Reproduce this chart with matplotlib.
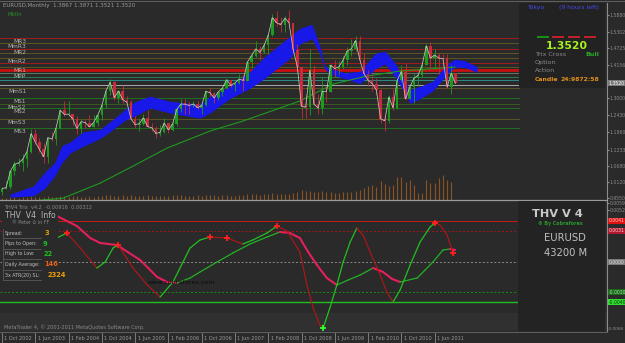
import matplotlib
matplotlib.use("Agg")
import matplotlib.pyplot as plt
from matplotlib.patches import Rectangle
from matplotlib.lines import Line2D
import matplotlib.transforms as mtransforms

W, H = 625, 343
BG = "#2a2a2a"

# ---------------- data ----------------
first_open = 0.9790
closes = [0.9885, 0.9930, 1.0490,
          1.0730, 1.0780, 1.0905, 1.1170, 1.1790, 1.1500, 1.1240, 1.0990, 1.1650, 1.1600, 1.1990, 1.2590,
          1.2450, 1.2460, 1.2300, 1.1960, 1.2200, 1.2170, 1.2020, 1.2170, 1.2420, 1.2760, 1.3270, 1.3560,
          1.3030, 1.3260, 1.2960, 1.2870, 1.2300, 1.2100, 1.2130, 1.2330, 1.2030, 1.1990, 1.1790, 1.1840,
          1.2150, 1.1920, 1.2120, 1.2620, 1.2810, 1.2800, 1.2760, 1.2810, 1.2680, 1.2760, 1.3250, 1.3190,
          1.3020, 1.3230, 1.3360, 1.3650, 1.3450, 1.3540, 1.3670, 1.3620, 1.4260, 1.4480, 1.4710, 1.4590,
          1.4830, 1.5180, 1.5790, 1.5610, 1.5550, 1.5770, 1.5610, 1.4680, 1.4090, 1.2730, 1.2700, 1.3970,
          1.2800, 1.2670, 1.3250, 1.3240, 1.4150, 1.4030, 1.4100, 1.4330, 1.4640, 1.4720, 1.5000, 1.4340,
          1.3860, 1.3630, 1.3510, 1.3290, 1.2300, 1.2230, 1.3050, 1.2680, 1.3630, 1.3930, 1.2980, 1.3380,
          1.3690, 1.3800, 1.4160, 1.4810, 1.4390, 1.4500, 1.4390, 1.4380, 1.3390, 1.3870, 1.3520]
highs = [0.9930, 1.0140, 1.0500,
         1.0860, 1.0940, 1.1080, 1.1240, 1.1930, 1.1930, 1.1640, 1.1450, 1.1680, 1.1850, 1.2020, 1.2650,
         1.2900, 1.2930, 1.2480, 1.2390, 1.2280, 1.2270, 1.2420, 1.2430, 1.2440, 1.2790, 1.3300, 1.3670,
         1.3600, 1.3270, 1.3480, 1.3090, 1.2940, 1.2410, 1.2280, 1.2480, 1.2590, 1.2160, 1.2040, 1.2080,
         1.2330, 1.2170, 1.2220, 1.2640, 1.2980, 1.2980, 1.2870, 1.2920, 1.2920, 1.2800, 1.3270, 1.3360,
         1.3220, 1.3250, 1.3380, 1.3680, 1.3640, 1.3540, 1.3850, 1.3800, 1.4280, 1.4520, 1.4970, 1.4820,
         1.4910, 1.5200, 1.5910, 1.6020, 1.5820, 1.5860, 1.6040, 1.5620, 1.4870, 1.4120, 1.3170, 1.4720,
         1.4160, 1.3150, 1.3740, 1.3440, 1.4180, 1.4340, 1.4290, 1.4450, 1.4790, 1.5060, 1.5140, 1.5140,
         1.4580, 1.3970, 1.3830, 1.3690, 1.3320, 1.2420, 1.3110, 1.3330, 1.3650, 1.4160, 1.4240, 1.3500,
         1.3830, 1.3860, 1.4250, 1.4880, 1.4940, 1.4700, 1.4580, 1.4550, 1.4550, 1.4140, 1.3871]
lows = [0.9685, 0.9860, 0.9870,
        1.0360, 1.0660, 1.0500, 1.0620, 1.1130, 1.1420, 1.1140, 1.0770, 1.0770, 1.1520, 1.1400, 1.1960,
        1.2400, 1.2390, 1.2080, 1.1760, 1.1800, 1.1970, 1.2010, 1.2000, 1.2050, 1.2270, 1.2680, 1.3130,
        1.2960, 1.2860, 1.2860, 1.2790, 1.2300, 1.1980, 1.1870, 1.2080, 1.2000, 1.1870, 1.1640, 1.1710,
        1.1800, 1.1820, 1.1880, 1.2040, 1.2530, 1.2470, 1.2460, 1.2700, 1.2620, 1.2480, 1.2740, 1.3070,
        1.2860, 1.2940, 1.3070, 1.3330, 1.3410, 1.3270, 1.3510, 1.3260, 1.3590, 1.4050, 1.4430, 1.4340,
        1.4560, 1.4540, 1.5140, 1.5510, 1.5280, 1.5300, 1.5530, 1.4580, 1.3900, 1.2330, 1.2330, 1.2430,
        1.2760, 1.2470, 1.2460, 1.2880, 1.3230, 1.3750, 1.3830, 1.4030, 1.4150, 1.4480, 1.4630, 1.4210,
        1.3860, 1.3440, 1.3270, 1.3120, 1.2150, 1.1880, 1.2150, 1.2590, 1.2640, 1.3590, 1.2970, 1.2970,
        1.2860, 1.3440, 1.3740, 1.4160, 1.3970, 1.4000, 1.3840, 1.4000, 1.3360, 1.3140, 1.3521]
volumes = [2, 2, 3, 3, 2, 3, 3, 4, 3, 3, 3, 4, 3, 3, 4,
           4, 3, 4, 4, 3, 3, 4, 3, 4, 4, 5, 5, 4, 4, 5, 4, 5, 4, 4, 4, 5, 4, 4, 4,
           4, 4, 5, 5, 5, 4, 4, 4, 5, 4, 5, 5, 5, 4, 5, 5, 4, 4, 5, 5, 6, 6, 6, 5,
           6, 6, 7, 6, 6, 6, 6, 7, 8, 10, 9, 9, 8, 8, 9, 8, 8, 7, 7, 8, 8, 8, 9, 10,
           12, 14, 15, 13, 19, 16, 14, 15, 23, 23, 18, 20, 15, 7, 7, 20, 17, 17, 22, 25, 20, 18]

cloud_idx = [1.9, 7.5, 10.3, 12.7, 14.4, 16.4, 19.5, 23.6, 26.0, 29.6, 32.0, 35.6, 40.4, 47.6, 50.0,
             54.8, 59.6, 63.2, 69.2, 71.6, 74.5, 76.4, 77.6, 78.9, 82.5, 86.1, 89.7, 92.1, 94.5, 96.9,
             98.1, 100.5, 103.6, 107.0, 108.9, 111.3, 114.2]
cloud_top = [0.9700, 0.9980, 1.0460, 1.0800, 1.1380, 1.1500, 1.1850, 1.1930, 1.2200, 1.2620, 1.2900,
             1.3080, 1.2900, 1.2800, 1.3070, 1.3420, 1.3930, 1.4450, 1.5140, 1.5420, 1.5560, 1.4800,
             1.4120, 1.4050, 1.3880, 1.3940, 1.4560, 1.4630, 1.4220, 1.3600, 1.3320, 1.3420, 1.3600,
             1.4190, 1.4360, 1.4300, 1.4100]
cloud_bot = [0.9597, 0.9640, 0.9900, 1.0330, 1.0780, 1.1120, 1.1350, 1.1620, 1.1860, 1.2250, 1.2400,
             1.2670, 1.2500, 1.2320, 1.2500, 1.3000, 1.3350, 1.3700, 1.4380, 1.4880, 1.5060, 1.4540,
             1.4010, 1.3840, 1.3680, 1.3510, 1.4020, 1.4190, 1.3750, 1.3170, 1.2830, 1.2990, 1.3270,
             1.3840, 1.4080, 1.4070, 1.3900]

ma_idx = [9.1, 14.7, 23.6, 31.5, 39.7, 50.0, 57.9, 71.6, 79.6, 87.7, 95.7, 108.9]
ma_val = [0.949, 0.9562, 1.0080, 1.0669, 1.1290, 1.1876, 1.2221, 1.2911, 1.3497, 1.3773, 1.3946, 1.4083]

level_names = ["MR3", "MmR3", "MR2", "", "MmR2", "", "MR1", "", "MPP", "", "", "",
               "MmS1", "MS1", "MmS2", "MS2", "MmS3", "MS3"]
level_prices = [1.5083, 1.4910, 1.4703, 1.4565, 1.4393, 1.4220, 1.4082, 1.3979, 1.3875, 1.3737,
                1.3634, 1.3461, 1.3358, 1.3013, 1.2806, 1.2668, 1.2288, 1.1978]
level_colors = ["#a01c1c", "#5c5420", "#a01c1c", "#5c5420", "#5c5420", "#a01c1c", "#5c5420", "#c81010",
                "#5c7a5c", "#2a7a4a", "#2a8a8a", "#a8a8a8", "#5c5420", "#207020", "#3a5a20", "#207020",
                "#5c5420", "#207020"]

fast_idx = [13.2, 15.6, 18.8, 22.8, 24.8, 26.7, 27.9, 31.5, 34.9, 38.0, 41.1, 45.2, 47.6, 50.0, 54.1,
            57.9, 60.3, 63.7, 66.1, 68.5, 71.6, 73.3, 74.8, 76.4, 77.2, 78.8, 80.5, 82.0, 83.7, 85.3,
            86.8, 88.5, 90.9, 92.5, 94.0, 95.7, 98.1, 100.5, 102.9, 104.1, 105.3, 107.0, 108.4]
fast_val = [0.0024, 0.0029, 0.0014, -0.0006, 0.0000, 0.0014, 0.0017, -0.0006, -0.0023, -0.0035, -0.0020,
            0.0014, 0.0022, 0.0025, 0.0024, 0.0018, 0.0022, 0.0029, 0.0036, 0.0031, 0.0010, -0.0023,
            -0.0046, -0.0063, -0.0066, -0.0046, -0.0023, 0.0000, 0.0020, 0.0034, 0.0027, 0.0010,
            -0.0013, -0.0030, -0.0040, -0.0028, -0.0003, 0.0020, 0.0035, 0.0039, 0.0037, 0.0027, 0.0009]
slow_idx = [13.2, 18.0, 21.2, 23.6, 27.6, 33.2, 37.3, 39.7, 42.1, 45.2, 47.6, 51.7, 55.5, 59.6, 63.7,
            66.8, 69.2, 71.6, 73.6, 75.7, 78.1, 80.5, 83.2, 86.1, 89.2, 91.6, 93.8, 95.7, 99.8, 101.7,
            103.6, 106.0, 107.7, 108.9]
slow_val = [0.0046, 0.0036, 0.0024, 0.0019, 0.0017, 0.0002, -0.0015, -0.0020, -0.0021, -0.0016, -0.0010,
            0.0000, 0.0009, 0.0018, 0.0025, 0.0030, 0.0029, 0.0024, 0.0010, -0.0003, -0.0016, -0.0023,
            -0.0018, -0.0013, -0.0006, -0.0010, -0.0017, -0.0020, -0.0016, -0.0008, 0.0000, 0.0012,
            0.0013, 0.0012]
peak_marks = [15.6, 27.9, 50.0, 54.1, 66.1, 104.1, 108.4]
trough_marks = [77.2]
osc_levels = [0.0041, 0.0031, 0.0000, -0.0030, -0.0040]

price_ticks = [1.5880, 1.5302, 1.4725, 1.4156, 1.3000, 1.2430, 1.1860, 1.1233, 1.0680, 1.0120, 0.9550]
osc_ticks = [0.0059, 0.0052]
osc_tick_labels = ["0.0059", "0.0052"]
date_labels = ["1 Oct 2002", "1 Jun 2003", "1 Feb 2004", "1 Oct 2004", "1 Jun 2005", "1 Feb 2006",
               "1 Oct 2006", "1 Jun 2007", "1 Feb 2008", "1 Oct 2008", "1 Jun 2009", "1 Feb 2010",
               "1 Oct 2010", "1 Jun 2011"]
date_idx = [0, 8, 16, 24, 32, 40, 48, 56, 64, 72, 80, 88, 96, 104]
current_price = 1.3520

# ---------------- helpers ----------------
def fx(px):
    return px / W

def fy(py):
    return 1 - py / H

fig = plt.figure(figsize=(W / 100, H / 100), dpi=100, facecolor=BG)

def T(px, py, s, **kw):
    kw.setdefault("va", "center")
    kw.setdefault("ha", "left")
    kw.setdefault("color", "#b0b0b0")
    kw.setdefault("fontsize", 4.5)
    fig.text(fx(px), fy(py), s, **kw)

def R(x0, y0, x1, y1, **kw):
    fig.patches.append(Rectangle((fx(x0), fy(y1)), fx(x1) - fx(x0), fy(y0) - fy(y1),
                                 transform=fig.transFigure, figure=fig, **kw))

def L(x0, y0, x1, y1, **kw):
    fig.lines.append(Line2D([fx(x0), fx(x1)], [fy(y0), fy(y1)], transform=fig.transFigure, figure=fig, **kw))

X0 = -2 / 4.16
X1 = 605 / 4.16
PX_RIGHT = 607
TICK_FS = 3.3

# ---------------- main panel ----------------
ax = fig.add_axes([0, fy(199.5), fx(PX_RIGHT), fy(3) - fy(199.5)])
ax.set_xlim(X0, X1)
ax.set_ylim(0.9515, 1.6294)

axv = ax.twinx()
axv.set_ylim(0, 196.5)
axv.set_xlim(X0, X1)
axv.vlines(range(len(volumes)), 0, volumes, color="#8a5422", lw=0.8)
axv.set_yticks([])
axv.set_zorder(0)
ax.set_zorder(1)
ax.patch.set_visible(False)
axv.patch.set_facecolor(BG)
for s in axv.spines.values():
    s.set_visible(False)

# pivot levels
for nm, p, c in zip(level_names, level_prices, level_colors):
    ax.plot([X0, 124.3], [p, p], color=c, lw=2.0 if c == "#c81010" else 0.7, zorder=1)

# cloud
ax.fill_between(cloud_idx, cloud_bot, cloud_top, color="#1818e8", lw=0, zorder=2)
# long MA
ax.plot(ma_idx, ma_val, color="#1f9a1f", lw=0.8, zorder=3)

# candles
opens = [first_open] + closes[:-1]
xs = list(range(len(closes)))
cols = ["#1c9c1c" if c >= o else "#cc2a3a" for o, c in zip(opens, closes)]
ax.vlines(xs, lows, highs, colors=cols, lw=0.6, zorder=4)
ax.bar(xs, [c - o if abs(c - o) > 0.002 else 0.002 for o, c in zip(opens, closes)], bottom=opens,
       width=0.6, color=cols, lw=0, zorder=5)
ax.plot(xs, closes, color="#c4c4c4", lw=0.55, zorder=6)

# price axis
ax.yaxis.tick_right()
ax.set_yticks(price_ticks)
ax.set_yticklabels([f"{v:.4f}" for v in price_ticks])
ax.tick_params(axis="y", labelsize=TICK_FS, colors="#8c8c8c", length=1.2, pad=0.6, direction="out")
ax.set_xticks([])
for s in ["top", "left", "bottom"]:
    ax.spines[s].set_visible(False)
ax.spines["right"].set_color("#8c8c8c")
ax.spines["right"].set_linewidth(0.8)
ax.text(1.003, current_price, f"{current_price:.4f}",
        transform=mtransforms.blended_transform_factory(ax.transAxes, ax.transData),
        fontsize=TICK_FS, color="#ffffff", va="center", ha="left",
        bbox=dict(boxstyle="square,pad=0.12", fc="#7a7a7a", ec="none"))

# level labels
for nm, p in zip(level_names, level_prices):
    if nm:
        ax.text(5.8, p - 0.011, nm, ha="right", va="center", fontsize=4.2, color="#b4b4b4", zorder=7)

# ---------------- oscillator panel ----------------
ax2 = fig.add_axes([0, fy(331), fx(PX_RIGHT), fy(201) - fy(331)])
ax2.set_facecolor(BG)
ax2.set_xlim(X0, X1)
ax2.set_ylim(-0.0069, 0.0061)
ax2.axhspan(-0.0069, -0.0051, color="#303030", lw=0, zorder=0)

ax2.plot([X0, 124.3], [osc_levels[0]] * 2, color="#c81818", lw=0.7)
ax2.plot([X0, 124.3], [osc_levels[1]] * 2, color="#a01818", lw=0.7, ls=(0, (2, 2)))
ax2.plot([X0, 124.3], [osc_levels[2]] * 2, color="#8a8a8a", lw=0.7, ls=(0, (2, 2)))
ax2.plot([X0, 124.3], [osc_levels[3]] * 2, color="#1a8a1a", lw=0.7, ls=(0, (2, 2)))
ax2.plot([X0, 124.3], [osc_levels[4]] * 2, color="#20c020", lw=1.0)

for i in range(len(slow_idx) - 1):
    up = slow_val[i + 1] >= slow_val[i]
    ax2.plot(slow_idx[i:i + 2], slow_val[i:i + 2], color="#24b024" if up else "#e2205a",
             lw=0.9 if up else 1.5, solid_capstyle="round", zorder=3)
for i in range(len(fast_idx) - 1):
    up = fast_val[i + 1] >= fast_val[i]
    ax2.plot(fast_idx[i:i + 2], fast_val[i:i + 2], color="#22c022" if up else "#a81818",
             lw=0.9, solid_capstyle="round", zorder=4)
for m in peak_marks:
    v = fast_val[fast_idx.index(m)]
    ax2.plot([m], [v], marker="+", ms=4, mew=1.3, color="#ff2020", zorder=5)
for m in trough_marks:
    v = fast_val[fast_idx.index(m)]
    ax2.plot([m], [v], marker="+", ms=4, mew=1.3, color="#30ff30", zorder=5)

ax2.text(35.0, -0.0021, "www.cobraforex.com", fontsize=4.6, color="#0c0c0c", va="center", zorder=6)

ax2.yaxis.tick_right()
ax2.set_yticks(osc_ticks)
ax2.set_yticklabels(osc_tick_labels)
ax2.tick_params(axis="y", labelsize=TICK_FS, colors="#8c8c8c", length=1.2, pad=0.6)
ax2.set_xticks([])
for s in ["top", "left", "bottom"]:
    ax2.spines[s].set_visible(False)
ax2.spines["right"].set_color("#8c8c8c")
ax2.spines["right"].set_linewidth(0.8)
lab_bg = ["#e01010", "#b01830", "#7a7a7a", "#1c6a1c", "#30e030"]
lab_fc = ["#ffd0d0", "#ffd0d0", "#e0e0e0", "#a0e0a0", "#103010"]
btr = mtransforms.blended_transform_factory(ax2.transAxes, ax2.transData)
for v, bgc, fcol in zip(osc_levels, lab_bg, lab_fc):
    ax2.text(1.003, v, f"{v:.4f}", transform=btr, fontsize=TICK_FS, color=fcol, va="center", ha="left",
             bbox=dict(boxstyle="square,pad=0.12", fc=bgc, ec="none"))
ax2.text(1.001, -0.0067, "-0.0068", transform=btr, fontsize=TICK_FS - 0.2, color="#8c8c8c",
         va="center", ha="left")

# ---------------- frames, separators, texts ----------------
L(0, 200.2, PX_RIGHT, 200.2, color="#9a9a9a", lw=0.9)
L(0, 1, W, 1, color="#6a6a6a", lw=0.6)
L(0, 331.5, PX_RIGHT, 331.5, color="#6a6a6a", lw=0.6)

# header
T(3, 6, "EURUSD,Monthly  1.3867 1.3871 1.3521 1.3520", fontsize=4.0, color="#9a9a9a")
T(7, 14, "MktIn", fontsize=3.8, color="#2a8a2a")

# info box top right
R(519, 3, 605, 88, facecolor="#222222", edgecolor="none", zorder=10)
T(528, 7, "Tokyo", fontsize=4.4, color="#4848f0", zorder=11)
T(599, 7, "(9 hours left)", fontsize=4.4, color="#4848f0", ha="right", zorder=11)
for x0, c in zip([537, 552, 568, 584], ["#159015", "#c0202a", "#c0202a", "#c0202a"]):
    R(x0, 35.8, x0 + 12, 38.2, facecolor=c, edgecolor="none", zorder=11)
T(567, 46, "1.3520", fontsize=7.8, color="#a8f020", ha="center", weight="bold", zorder=11)
T(535, 54.5, "Trix Cross", fontsize=4.6, color="#8a8a8a", zorder=11)
T(599, 54.5, "Bull", fontsize=4.6, color="#2aa82a", ha="right", weight="bold", zorder=11)
T(535, 62.5, "Option", fontsize=4.6, color="#8a8a8a", zorder=11)
T(535, 70.5, "Action", fontsize=4.6, color="#8a8a8a", zorder=11)
T(535, 79.5, "Candle", fontsize=4.4, color="#e09018", weight="bold", zorder=11)
T(599, 79.5, "24:9872:58", fontsize=4.4, color="#e09018", ha="right", weight="bold", zorder=11)

# oscillator header
T(4, 207, "THV4 Trix  v4.2  -0.00916  0.00312", fontsize=3.6, color="#8a8a8a", zorder=11)

# info box bottom left
R(2, 210, 58, 282, facecolor=BG, edgecolor="none", zorder=10)
T(30, 216, "THV  V4  Info", fontsize=5.6, color="#b8b8b8", ha="center", zorder=11)
T(31, 222, "® Peter ⊙ in FF", fontsize=3.4, color="#8a8a8a", ha="center", zorder=11)
rows = [("Spread:", "3", "#e0a000", 45), ("Pips to Open:", "9", "#20c020", 43),
        ("High to Low:", "22", "#20c020", 44), ("Daily Average:", "146", "#e86018", 44),
        ("3x ATR(20) SL:", "2324", "#f0a000", 47)]
for k, (lab, val, c, vx) in enumerate(rows):
    yy = 233 + k * 10.5
    T(5, yy, lab, fontsize=3.4, color="#c0c0c0", zorder=11)
    T(vx, yy, val, fontsize=4.8, color=c, weight="bold", zorder=11)
    L(3, yy + 5, 41, yy + 5, color="#5a5a5a", lw=0.6, zorder=11)
    L(3, yy - 4.5, 3, yy + 5, color="#5a5a5a", lw=0.6, zorder=11)

# bottom right box
R(518, 201, 605, 331, facecolor="#232323", edgecolor="none", zorder=10)
T(557, 214, "THV V 4", fontsize=8.2, color="#c8c8c8", ha="center", weight="bold", zorder=11)
T(560, 223, "© By Cobraforex", fontsize=3.4, color="#2a9a2a", ha="center", weight="bold", zorder=11)
T(565, 238, "EURUSD", fontsize=7.2, color="#c0c0c0", ha="center", zorder=11)
T(566, 253, "43200 M", fontsize=7.2, color="#c0c0c0", ha="center", zorder=11)

# copyright
T(4, 327.5, "MetaTrader 4, © 2001-2011 MetaQuotes Software Corp.", fontsize=3.6, color="#8a8a8a", zorder=11)

# date axis
axd = fig.add_axes([0, 0, fx(PX_RIGHT), fy(332)])
axd.set_xlim(X0, X1)
axd.set_ylim(0, 1)
axd.axis("off")
for lab, i in zip(date_labels, date_idx):
    axd.plot([i, i], [0.1, 0.9], color="#8a8a8a", lw=0.6)
    axd.text(i + 0.6, 0.45, lab, fontsize=3.6, color="#9a9a9a", va="center", ha="left")

fig.savefig("out.png", dpi=100, facecolor=BG)
